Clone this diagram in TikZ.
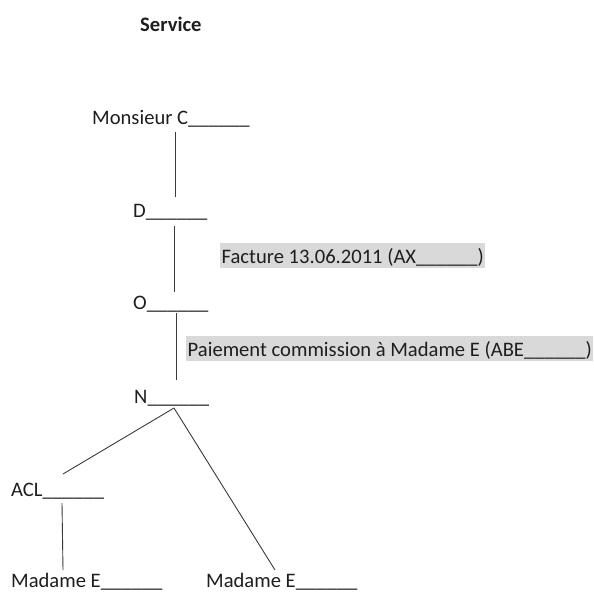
\documentclass[tikz,border=0pt]{standalone}
\usepackage{fontspec}
\setmainfont{Carlito}
\definecolor{ink}{HTML}{1E1E1E}
\definecolor{wire}{HTML}{3A3A3A}
\definecolor{mark}{HTML}{D9D9D9}
\begin{document}
\begin{tikzpicture}[x=1pt,y=-1pt,
  every node/.style={inner sep=0pt,text=ink,font=\fontsize{20.6}{24}\selectfont},
  entity/.style={anchor=base west},
  flowlabel/.style={anchor=base west,fill=mark,inner xsep=1.5pt,text height=20pt,text depth=5pt},
  link/.style={draw=wire,line width=0.9pt}]
\useasboundingbox (0,0) rectangle (594,592);
% title
\node[entity,font=\fontsize{20.6}{24}\selectfont\bfseries] (title) at (140,31) {Service};
% chain of entities
\node[entity] (mc)  at (92,124)  {Monsieur C\_\_\_\_\_\_};
\node[entity] (d)   at (133,217) {D\_\_\_\_\_\_};
\node[entity] (o)   at (133,309) {O\_\_\_\_\_\_};
\node[entity] (n)   at (134,403) {N\_\_\_\_\_\_};
\node[entity] (acl) at (11,496)  {ACL\_\_\_\_\_\_};
\node[entity] (me1) at (11,587)  {Madame E\_\_\_\_\_\_};
\node[entity] (me2) at (206,587) {Madame E\_\_\_\_\_\_};
% highlighted flow descriptions
\node[flowlabel] (f1) at (220,263) {Facture 13.06.2011 (AX\_\_\_\_\_\_)};
\node[flowlabel] (f2) at (186,356) {Paiement commission à Madame E (ABE\_\_\_\_\_\_)};
% connector ends
\coordinate (mc-b) at (175,132); \coordinate (d-t) at (175,197);
\coordinate (d-b) at (174,226);  \coordinate (o-t) at (174,292);
\coordinate (o-b) at (176,313);  \coordinate (n-t) at (176,380);
\coordinate (n-b) at (174,408);
\coordinate (acl-t) at (63,474); \coordinate (acl-b) at (62,503);
\coordinate (me1-t) at (63,570); \coordinate (me2-t) at (275,570);
% connectors
\draw[link] (mc-b) -- (d-t);
\draw[link] (d-b) -- (o-t);
\draw[link] (o-b) -- (n-t);
\draw[link] (n-b) -- (acl-t);
\draw[link] (n-b) -- (me2-t);
\draw[link] (acl-b) -- (me1-t);
\end{tikzpicture}
\end{document}
